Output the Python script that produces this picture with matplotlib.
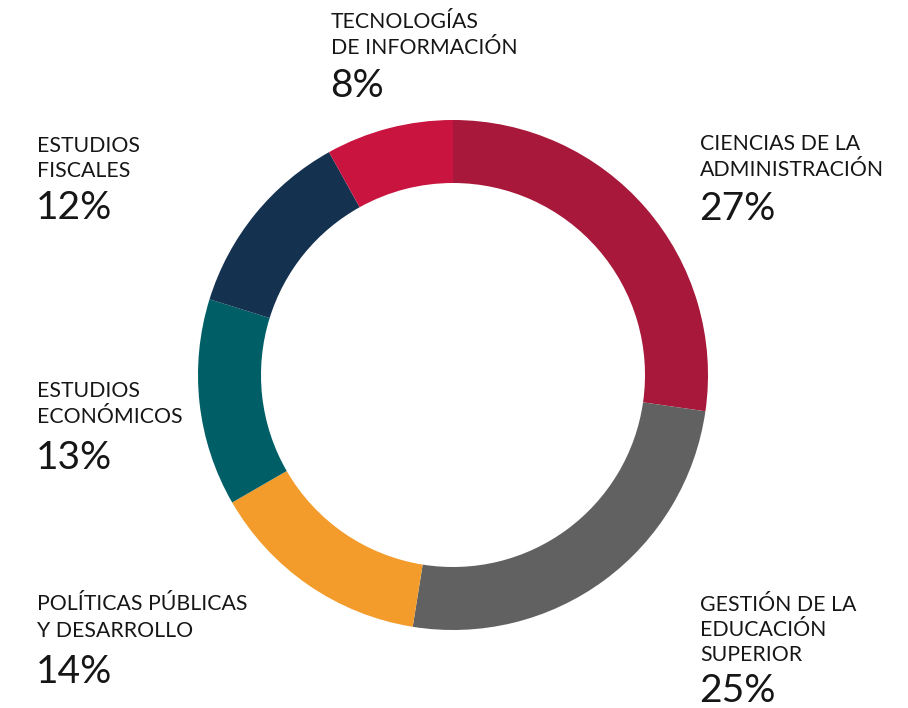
import matplotlib
matplotlib.use("Agg")
import matplotlib.pyplot as plt

categories = ["CIENCIAS DE LA\nADMINISTRACIÓN",
              "GESTIÓN DE LA\nEDUCACIÓN\nSUPERIOR",
              "POLÍTICAS PÚBLICAS\nY DESARROLLO",
              "ESTUDIOS\nECONÓMICOS",
              "ESTUDIOS\nFISCALES",
              "TECNOLOGÍAS\nDE INFORMACIÓN"]
values = [27, 25, 14, 13, 12, 8]
pct_labels = ["27%", "25%", "14%", "13%", "12%", "8%"]
colors = ["#A8183A", "#616161", "#F39C2C", "#005F66", "#143150", "#C8143F"]

W, H = 908, 708
fig = plt.figure(figsize=(W / 100, H / 100), dpi=100)
ax = fig.add_axes([0, 0, 1, 1])

cx, cy, R = 453, H - 375, 255
ax.pie(values, colors=colors, startangle=90, counterclock=False,
       radius=R, center=(cx, cy),
       wedgeprops=dict(width=63, linewidth=0), frame=True)
ax.set_xlim(0, W)
ax.set_ylim(0, H)
ax.axis("off")

# label layout: (x, first baseline, line pitch, pct baseline) in pixel coords from top
layout = [
    (700, 150, 26, 220),
    (700, 611, 25, 702),
    (37, 610, 27, 683),
    (37, 397, 26, 469),
    (37, 152, 25, 219),
    (331, 28, 26, 97),
]
name_font = dict(family=["Lato", "DejaVu Sans"], fontsize=15.3, color="#161616")
pct_font = dict(family=["Lato", "DejaVu Sans"], fontsize=28, color="#161616", fontweight="normal")

for cat, pct, (x, b0, pitch, pb) in zip(categories, pct_labels, layout):
    for i, line in enumerate(cat.split("\n")):
        ax.text(x, H - (b0 + i * pitch), line, ha="left", va="baseline", **name_font)
    ax.text(x - 1, H - pb, pct, ha="left", va="baseline", **pct_font)

fig.savefig("out.png", dpi=100, facecolor="white")
